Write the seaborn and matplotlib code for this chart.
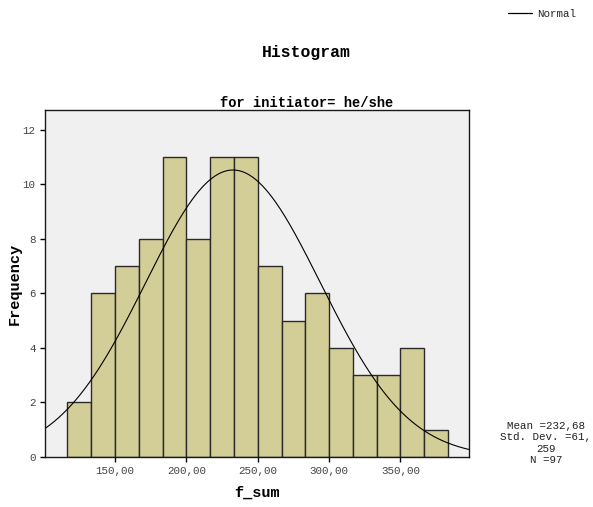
import numpy as np
import pandas as pd
import matplotlib
matplotlib.use("Agg")
import matplotlib.pyplot as plt
import seaborn as sns
from matplotlib.lines import Line2D

# ---- data ----
bin_start = 116.667
bin_width = 16.667
counts = [2, 6, 7, 8, 11, 8, 11, 11, 7, 5, 6, 4, 3, 3, 4, 1]
mean_val = 232.68
sd_val = 61.259
n_val = 97
x_ticks = [150, 200, 250, 300, 350]
x_tick_labels = ["150,00", "200,00", "250,00", "300,00", "350,00"]
y_ticks = [0, 2, 4, 6, 8, 10, 12]
title = "Histogram"
subtitle = "for initiator= he/she"
x_label = "f_sum"
y_label = "Frequency"
legend_label = "Normal"
stats_lines = ["Mean =232,68", "Std. Dev. =61,", "259", "N =97"]

edges = bin_start + bin_width * np.arange(len(counts) + 1)
mids = (edges[:-1] + edges[1:]) / 2
df = pd.DataFrame({"f_sum": mids, "count": counts})

sns.set_style("white")
plt.rcParams["font.family"] = ["Liberation Mono", "DejaVu Sans Mono"]
plt.rcParams["text.color"] = "black"

fig = plt.figure(figsize=(5.93, 5.07), dpi=100)
ax = fig.add_axes([45 / 593, 1 - 457 / 507, (469 - 45) / 593, (457 - 110) / 507])
ax.set_facecolor("#f0f0f0")

sns.histplot(data=df, x="f_sum", weights="count", binwidth=bin_width,
             binrange=(float(edges[0]), float(edges[-1])), ax=ax,
             color="#d3ce97", alpha=1.0, edgecolor="#2a2a2a", linewidth=1.0)

xs = np.linspace(95, 405, 400)
pdf = n_val * bin_width / (sd_val * np.sqrt(2 * np.pi)) * np.exp(-0.5 * ((xs - mean_val) / sd_val) ** 2)
sns.lineplot(x=xs, y=pdf, ax=ax, color="black", linewidth=0.8)

ax.set_xlim(101, 398)
ax.set_ylim(0, 12.73)
ax.set_xticks(x_ticks)
ax.set_xticklabels(x_tick_labels)
ax.set_yticks(y_ticks)
ax.tick_params(axis="both", direction="out", length=3.8, width=1.0, color="black",
               labelsize=7.8, labelcolor="#444444", pad=3, left=True, bottom=True)
for s in ax.spines.values():
    s.set_visible(True)
    s.set_color("#1a1a1a")
    s.set_linewidth(1.0)

ax.set_xlabel("")
ax.set_ylabel("")
fig.text(257 / 593, 1 - 493 / 507, x_label, ha="center", va="center",
         fontsize=11, fontweight="bold", color="black")
fig.text(15 / 593, 1 - 284 / 507, y_label, ha="center", va="center",
         rotation=90, fontsize=11, fontweight="bold", color="black")
fig.text(306 / 593, 1 - 52 / 507, title, ha="center", va="center",
         fontsize=11.8, fontweight="bold", color="black")
fig.text(307 / 593, 1 - 103 / 507, subtitle, ha="center", va="center",
         fontsize=9.9, fontweight="bold", color="black")

fig.add_artist(Line2D([508 / 593, 532 / 593], [1 - 13 / 507, 1 - 13 / 507],
                      color="black", linewidth=0.9))
fig.text(537 / 593, 1 - 14 / 507, legend_label, ha="left", va="center",
         fontsize=7.8, color="#222222")

for i, line in enumerate(stats_lines):
    fig.text(546 / 593, 1 - (426 + i * 11.3) / 507, line, ha="center", va="center",
             fontsize=7.8, color="#222222")

fig.savefig("out.png", dpi=100)
